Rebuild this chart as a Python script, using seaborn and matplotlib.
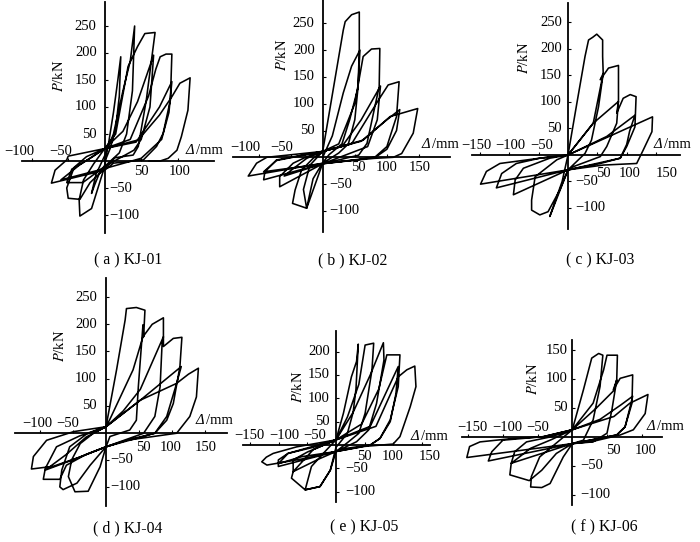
import matplotlib
matplotlib.use('Agg')
import matplotlib.pyplot as plt
import seaborn as sns

# Hysteresis curves: displacement (mm) and load (kN)
kj01_delta = [0, 5, 12, 18, 22, 20, 15, 8, 2, 0, -8, -14, -18, -12, 0,
              12, 25, 35, 41, 38, 30, 20, 0, -18, -34, -35, -29, -15, 0,
              15, 32, 45, 55, 69, 57, 46, 39, 14, 0, -20, -34, -50, -52, -42, -25, 0,
              25, 45, 67, 62, 50, 40, 0, -30, -52, -45, -20, 0,
              35, 60, 70, 76, 84, 92, 90, 80, 71, 53, 12, 0, -73, -68, -52, -50, 0,
              43, 75, 92, 88, 78, 50, 0, -40, -60, -35, 0,
              46, 75, 92, 103, 117, 114, 105, 99, 87, 76, 60]
kj01_p = [0, 30, 90, 150, 193, 120, 60, 25, 5, -8, -25, -45, -60, -25, 10,
          50, 130, 185, 250, 130, 50, 15, -10, -88, -102, -72, -35, -5, 23,
          50, 175, 212, 236, 238, 113, 27, 11, 6, -14, -40, -71, -69, -50, -12, 8, 23,
          55, 110, 196, 100, 40, 20, -10, -40, -40, -15, 5, 23,
          40, 120, 170, 193, 198, 198, 113, 51, 27, 2, -4, -17, -41, -17, 2, 9, 23,
          35, 100, 147, 90, 40, 5, -14, -28, -35, -8, 23,
          39, 85, 119, 144, 154, 94, 45, 20, 5, 0, 0]

kj02_delta = [0, 15, 32, 45, 58, 55, 42, 30, 10, 0, -15, -25, -30, -20, 0,
              32, 35, 45, 57, 57, 55, 50, 40, 25, 0, -25, -47, -43, -33, -15, 0,
              25, 50, 63, 76, 89, 88, 79, 69, 56, 0, -67, -67, -46, -25, 0,
              30, 60, 90, 85, 70, 0, -60, -50, -25, 0,
              45, 87, 102, 119, 115, 105, 100, 82, 53, 0, -92, -90, -72, 0,
              60, 100, 120, 115, 100, 82, 0, -92, -72, 0,
              63, 105, 148, 141, 123, 110, 80, 0, -116, -103, -87, 0]
kj02_p = [0, 40, 120, 170, 200, 130, 70, 25, 5, -10, -40, -95, -60, -15, 11,
          237, 253, 266, 271, 200, 130, 70, 25, 8, -11, -95, -86, -61, -24, -2, 11,
          25, 100, 188, 202, 203, 132, 82, 26, 4, -12, -55, -36, -11, 1, 11,
          20, 70, 133, 70, 20, -12, -35, -25, -2, 11,
          25, 107, 135, 141, 76, 39, 20, 1, -5, -12, -42, -27, -5, 11,
          30, 70, 89, 50, 15, 0, -12, -27, -6, 11,
          32, 76, 91, 45, 7, 0, -2, -11, -35, -11, 0, 11]

kj03_delta = [0, 15, 29, 35, 42, 49, 59, 59, 60, 52, 40, 29, 0, -14, -34, -48, -62, -62, -56, -19, 0,
              43, 60, 55, 69, 86, 86, 83, 66, 55, 9, 0, -31, -10, 0,
              43, 86, 83, 94, 106, 116, 114, 100, 89, 55, 0, -93, -90, -76, -31, 0,
              66, 114, 105, 100, 89, 0, -122, -113, -88, -48, 0,
              100, 144, 143, 128, 117, 60, 0, -149, -139, -116, -48, 0]
kj03_p = [0, 97, 186, 217, 222, 228, 217, 186, 154, 91, 28, 3, -28, -66, -107, -113, -104, -85, -41, -9, 0,
          60, 154, 142, 164, 169, 104, 60, 16, -3, -22, -28, -116, -50, 0,
          60, 101, 79, 107, 114, 110, 53, 16, -6, -16, -28, -75, -47, -25, -6, 0,
          35, 75, 45, 20, -6, -28, -62, -35, -16, -6, 0,
          50, 72, 44, 9, -16, -19, -28, -55, -31, -16, -6, 0]

kj04_delta = [0, 16, 29, 31, 46, 59, 57, 56, 49, 46, 36, 6, 0, -9, -27, -47, -57, -52, -39, -19, 0,
              6, 41, 56, 70, 87, 87, 85, 82, 74, 57, 0, -24, -44, -65, -70, -67, -55, -30, 0,
              26, 52, 87, 87, 102, 115, 112, 102, 92, 74, 31, 0, -30, -60, -70, -95, -92, -75, -40, 0,
              52, 114, 107, 92, 74, 0, -50, -92, -60, -30, 0,
              52, 107, 125, 140, 137, 127, 107, 31, 0, -40, -80, -113, -110, -90, -49, 0]
kj04_p = [11, 116, 208, 229, 231, 226, 177, 199, 85, 23, 5, -7, -26, -63, -108, -109, -81, -50, -20, -1, 11,
          25, 116, 177, 200, 212, 177, 165, 85, 30, -1, -26, -60, -93, -105, -100, -69, -26, -3, 11,
          40, 80, 177, 159, 174, 176, 122, 54, 23, -1, -14, -26, -40, -60, -86, -86, -66, -26, -6, 11,
          60, 122, 91, 30, -1, -26, -50, -69, -40, -8, 11,
          60, 91, 108, 119, 66, 30, -1, -14, -26, -45, -62, -67, -44, -14, 2, 11]

kj05_delta = [0, 13, 27, 36, 39, 35, 30, 20, 0, -10, -28, -54, -43, -20, 0,
              20, 40, 51, 66, 63, 51, 40, 20, 0, -10, -28, -54, -78, -75, -40, 0,
              30, 60, 83, 84, 71, 57, 36, 0, -30, -75, -75, -50, 0,
              45, 75, 89, 112, 109, 95, 77, 60, 19, 0, -101, -101, -84, -40, 0,
              60, 109, 105, 95, 77, 60, 0, -60, -101, -84, 0,
              70, 109, 124, 138, 140, 130, 112, 100, 50, 0, -60, -121, -130, -122, -110, -69, 0]
kj05_p = [11, 68, 146, 179, 216, 120, 70, 25, -5, -54, -89, -96, -46, -15, 11,
          60, 130, 214, 218, 161, 68, 25, 5, -14, -54, -89, -96, -71, -57, -10, 11,
          70, 150, 219, 182, 89, 32, 7, -14, -30, -57, -32, -15, 11,
          45, 120, 193, 193, 125, 54, 14, 0, -7, -14, -46, -32, -18, -5, 11,
          40, 168, 110, 50, 14, 0, -14, -25, -40, -18, 11,
          40, 146, 161, 169, 125, 82, 18, 2, -3, -14, -30, -43, -36, -26, -18, -4, 11]

kj06_delta = [0, 16, 28, 38, 44, 40, 30, 16, 0, -13, -32, -44, -60, -59, -47, -20, 0,
              30, 45, 50, 65, 64, 57, 50, 30, 0, -23, -44, -62, -90, -88, -60, -30, 0,
              35, 60, 64, 59, 69, 87, 86, 76, 64, 0, -88, -83, -66, -30, 0,
              40, 70, 87, 83, 76, 64, 0, -121, -116, -100, -42, 0,
              60, 83, 109, 105, 88, 69, 30, 0, -152, -148, -133, -85, -42, 0]
kj06_p = [12, 81, 136, 144, 141, 87, 29, -6, -12, -35, -81, -88, -87, -69, -35, -8, 12,
          58, 115, 141, 141, 98, 46, 6, -9, -12, -29, -58, -76, -66, -46, -20, -5, 12,
          50, 80, 98, 81, 101, 107, 58, 17, 3, -12, -46, -26, -9, 0, 12,
          30, 55, 70, 50, 17, 3, -12, -42, -26, -6, 0, 12,
          35, 58, 73, 40, 12, 3, -8, -12, -36, -17, -9, -3, 0, 12]

kj01_xticks = [-100, -50, 50, 100]
kj02_xticks = [-100, -50, 50, 100, 150]
kj03_xticks = [-150, -100, -50, 50, 100, 150]
kj04_xticks = [-100, -50, 50, 100, 150]
kj05_xticks = [-150, -100, -50, 50, 100, 150]
kj06_xticks = [-150, -100, -50, 50, 100]
kj01_yticks = [-100, -50, 50, 100, 150, 200, 250]
kj05_yticks = [-100, -50, 50, 100, 150, 200]
kj06_yticks = [-100, -50, 50, 100, 150]

captions = ['( a ) KJ-01', '( b ) KJ-02', '( c ) KJ-03', '( d ) KJ-04', '( e ) KJ-05', '( f ) KJ-06']

W, H = 700, 542

sns.set_theme(style='white')
plt.rcParams['font.family'] = ['Liberation Serif', 'DejaVu Serif']
plt.rcParams['mathtext.fontset'] = 'stix'

fig = plt.figure(figsize=(W / 100, H / 100), dpi=100)

# layout in image pixels
panels = [
    dict(delta=kj01_delta, p=kj01_p, xt=kj01_xticks, yt=kj01_yticks, x0=104.7, y0=161, sx=.73, sy=.54,
         box=(22, 214, 2, 233), dx=[-12, -7, 0, 2], below=10.7, ly=8, ry=5,
         yl=(59, 76), xl=(202, 151), cap=(128, 260)),
    dict(delta=kj02_delta, p=kj02_p, xt=kj02_xticks, yt=kj01_yticks, x0=322.7, y0=157.3, sx=.642, sy=.536,
         box=(233, 450, 0, 232), dx=[-13, -9, 4, 0, 1], below=10.3, ly=8, ry=7,
         yl=(282, 55), xl=(438, 144), cap=(353, 260)),
    dict(delta=kj03_delta, p=kj03_p, xt=kj03_xticks, yt=kj01_yticks, x0=568, y0=155, sx=.587, sy=.53,
         box=(472, 680, 3, 229), dx=[-4, 1, 3, 6, 3, 11], below=19, ly=6, ry=7,
         yl=(524, 58), xl=(670, 144), cap=(600, 260)),
    dict(delta=kj04_delta, p=kj04_p, xt=kj04_xticks, yt=kj01_yticks, x0=106, y0=432.7, sx=.66, sy=.542,
         box=(15, 227, 278, 506), dx=[-3, -5, 4, -1, 1], below=14.7, ly=9, ry=4,
         yl=(60, 346), xl=(212, 420), cap=(128, 528)),
    dict(delta=kj05_delta, p=kj05_p, xt=kj05_xticks, yt=kj05_yticks, x0=336, y0=445, sx=.571, sy=.467,
         box=(243, 430, 331, 502), dx=[-1, 5, 7, 0, 0, 8], below=11.5, ly=6, ry=9,
         yl=(298, 387), xl=(427, 436), cap=(364, 527)),
    dict(delta=kj06_delta, p=kj06_p, xt=kj06_xticks, yt=kj06_yticks, x0=572.3, y0=436.7, sx=.694, sy=.578,
         box=(462, 662, 340, 505), dx=[4, 4, 0, 6, 4], below=13.3, ly=5, ry=8,
         yl=(533, 379), xl=(663, 427), cap=(604, 527)),
]

for pn, cap in zip(panels, captions):
    left, right, top, bottom = pn['box']
    ax = fig.add_axes([left / W, 1 - bottom / H, (right - left) / W, (bottom - top) / H])
    ax.patch.set_alpha(0)

    sns.lineplot(x=pn['delta'], y=pn['p'], sort=False, estimator=None, color='black', lw=1.15, ax=ax)

    ax.set_xlim((left - pn['x0']) / pn['sx'], (right - pn['x0']) / pn['sx'])
    ax.set_ylim((pn['y0'] - bottom) / pn['sy'], (pn['y0'] - top) / pn['sy'])

    sns.despine(ax=ax)
    for side in ['left', 'bottom']:
        ax.spines[side].set_position('zero')
        ax.spines[side].set_linewidth(1.3)
        ax.spines[side].set_color('black')

    ax.set_xticks(pn['xt'])
    ax.set_yticks(pn['yt'])
    ax.set_xticklabels([])
    ax.set_yticklabels([])
    ax.tick_params(direction='in', length=2, width=0.8, color='black', bottom=True, left=True)

    for v, dx in zip(pn['xt'], pn['dx']):
        offset = (dx, 9.5) if v < 0 else (dx, -pn['below'])
        ax.annotate(str(v).replace('-', '\u2212'), xy=(v, 0), xytext=offset, textcoords='offset pixels',
                    ha='center', va='center', fontsize=10.5, color='black')
    for v in pn['yt']:
        if v < 0:
            ax.annotate(str(v).replace('-', '\u2212'), xy=(0, v), xytext=(pn['ry'], 0), textcoords='offset pixels',
                        ha='left', va='center', fontsize=10.5, color='black')
        else:
            ax.annotate(str(v), xy=(0, v), xytext=(-pn['ly'], 0), textcoords='offset pixels',
                        ha='right', va='center', fontsize=10.5, color='black')

    fig.text(pn['yl'][0] / W, 1 - pn['yl'][1] / H, r'$\mathit{P}$/kN', rotation=90,
             ha='center', va='center', fontsize=10.5, color='black')
    # capital Greek stays upright in mathtext, so the delta is its own italic text
    fig.text((pn['xl'][0] - 8) / W, 1 - pn['xl'][1] / H, '\u0394', style='italic',
             ha='right', va='center', fontsize=10.5, color='black')
    fig.text((pn['xl'][0] - 6) / W, 1 - pn['xl'][1] / H, '/mm',
             ha='left', va='center', fontsize=10.5, color='black')
    fig.text(pn['cap'][0] / W, 1 - pn['cap'][1] / H, cap,
             ha='center', va='center', fontsize=11.3, color='black')

fig.savefig('out.png', dpi=100)
